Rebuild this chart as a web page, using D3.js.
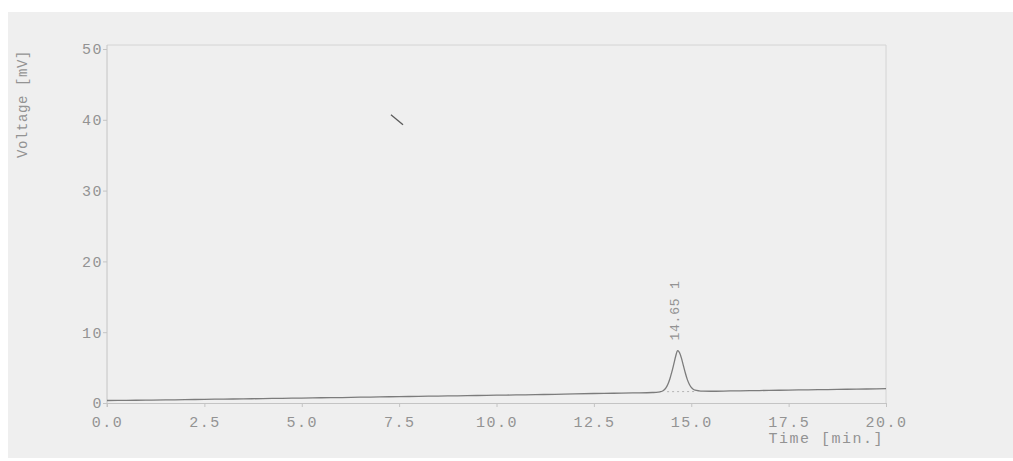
<!DOCTYPE html>
<html>
<head>
<meta charset="utf-8">
<script src="https://cdn.jsdelivr.net/npm/d3@7/dist/d3.min.js"></script>
<style>
  html, body { margin: 0; padding: 0; background: #ffffff; }
  svg { display: block; }
  text { font-family: "Courier New", "Liberation Mono", monospace; fill: #939393; }
</style>
</head>
<body>
<svg id="chart" width="1013" height="461"></svg>
<script>
// Detector trace: time (min) and signal (mV)
const timeMin = [
  0.0, 0.5, 1.0, 1.5, 2.0, 2.5, 3.0, 3.5, 4.0, 4.5, 5.0, 5.5, 6.0, 6.5, 7.0, 7.5,
  8.0, 8.5, 9.0, 9.5, 10.0, 10.5, 11.0, 11.5, 12.0, 12.5, 13.0, 13.5, 14.0, 14.1,
  14.2, 14.25, 14.3, 14.35, 14.4, 14.45, 14.5, 14.55, 14.6, 14.65, 14.7, 14.75,
  14.8, 14.85, 14.9, 14.95, 15.0, 15.05, 15.1, 15.2, 15.3, 15.5, 16.0, 16.5, 17.0,
  17.5, 18.0, 18.5, 19.0, 19.5, 20.0
];
const voltageMv = [
  0.35, 0.38, 0.40, 0.44, 0.47, 0.52, 0.55, 0.58, 0.62, 0.66, 0.70, 0.74, 0.77, 0.82, 0.86, 0.90,
  0.94, 0.98, 1.02, 1.06, 1.10, 1.14, 1.18, 1.23, 1.28, 1.34, 1.38, 1.43, 1.48, 1.50,
  1.58, 1.66, 1.84, 2.15, 2.65, 3.40, 4.35, 5.45, 6.60, 7.40, 7.10, 6.30,
  5.25, 4.20, 3.30, 2.65, 2.20, 1.95, 1.82, 1.72, 1.68, 1.66, 1.70, 1.74, 1.78,
  1.82, 1.86, 1.90, 1.94, 1.98, 2.02
];

// Integration baseline under the peak and its label
const peakBaseT = [14.38, 15.12];
const peakBaseV = [1.60, 1.62];
const peakTime = [14.65];
const peakHeight = [7.40];
const peakLabel = ["14.65 1"];

// Stray pen stroke on the sheet, in data units
const strokeT = [7.29, 7.60];
const strokeV = [40.7, 39.3];

// Axis ticks
const xTicks = [0, 2.5, 5, 7.5, 10, 12.5, 15, 17.5, 20];
const xTickLabels = ["0.0", "2.5", "5.0", "7.5", "10.0", "12.5", "15.0", "17.5", "20.0"];
const yTicks = [0, 10, 20, 30, 40, 50];
const yTickLabels = ["0", "10", "20", "30", "40", "50"];

const svg = d3.select("#chart");

// paper background
svg.append("rect")
  .attr("x", 8).attr("y", 12)
  .attr("width", 1005).attr("height", 446)
  .attr("fill", "#efefef");

const margin = { left: 107, right: 127, top: 45, bottom: 58 };
const W = 1013, H = 461;

const x = d3.scaleLinear().domain([0, 20]).range([margin.left, W - margin.right]);
const y = d3.scaleLinear().domain([0, 50]).range([H - margin.bottom, 49]);

const axisColor = "#c4c4c4";
const labelFont = "'Courier New', 'Liberation Mono', monospace";

// plot frame (top and right)
svg.append("path")
  .attr("d", `M${x(0)},${margin.top}H${x(20)}V${y(0)}`)
  .attr("fill", "none").attr("stroke", "#d4d4d4").attr("stroke-width", 1);

// y axis
const yAxis = svg.append("g")
  .attr("transform", `translate(${x(0)},0)`)
  .call(d3.axisLeft(y).tickValues(yTicks).tickFormat((d, i) => yTickLabels[i]).tickSize(4).tickPadding(0));
yAxis.select(".domain").attr("stroke", axisColor).attr("d", `M0,${margin.top}V${y(0) + 4}`);
yAxis.selectAll(".tick line").attr("stroke", axisColor);
yAxis.selectAll(".tick text")
  .attr("font-size", 15).attr("letter-spacing", 1.5).attr("fill", "#939393")
  .style("font-family", labelFont);

// x axis
const xAxis = svg.append("g")
  .attr("transform", `translate(0,${y(0)})`)
  .call(d3.axisBottom(x).tickValues(xTicks).tickFormat((d, i) => xTickLabels[i]).tickSize(4).tickPadding(9));
xAxis.select(".domain").attr("stroke", axisColor);
xAxis.selectAll(".tick line").attr("stroke", axisColor);
xAxis.selectAll(".tick text")
  .attr("font-size", 15).attr("letter-spacing", 1.5).attr("fill", "#939393")
  .style("font-family", labelFont);

// axis titles
svg.append("text")
  .attr("x", x(20) - 2).attr("y", 443)
  .attr("text-anchor", "end")
  .attr("font-size", 15).attr("letter-spacing", 1.5)
  .text("Time [min.]");

svg.append("text")
  .attr("transform", `translate(27,${104}) rotate(-90)`)
  .attr("text-anchor", "middle")
  .attr("font-size", 14).attr("letter-spacing", 0.6)
  .attr("fill", "#ababab")
  .text("Voltage [mV]");

// integration baseline
svg.append("line")
  .attr("x1", x(peakBaseT[0])).attr("y1", y(peakBaseV[0]))
  .attr("x2", x(peakBaseT[1])).attr("y2", y(peakBaseV[1]))
  .attr("stroke", "#b4b4b4").attr("stroke-width", 1)
  .attr("stroke-dasharray", "2,3");

// signal trace
const pts = timeMin.map((t, i) => [t, voltageMv[i]]);
const line = d3.line().x(d => x(d[0])).y(d => y(d[1])).curve(d3.curveMonotoneX);
svg.append("path")
  .datum(pts)
  .attr("d", line)
  .attr("fill", "none")
  .attr("stroke", "#7c7c7c")
  .attr("stroke-width", 1.3);

// peak label
peakTime.forEach((t, i) => {
  svg.append("text")
    .attr("transform", `translate(${x(t) + 1},${y(peakHeight[i]) - 10}) rotate(-90)`)
    .attr("text-anchor", "start")
    .attr("font-size", 13).attr("letter-spacing", 0.8)
    .attr("fill", "#939393")
    .text(peakLabel[i]);
});

// pen stroke
svg.append("line")
  .attr("x1", x(strokeT[0])).attr("y1", y(strokeV[0]))
  .attr("x2", x(strokeT[1])).attr("y2", y(strokeV[1]))
  .attr("stroke", "#5a5a5a").attr("stroke-width", 1.3);
</script>
</body>
</html>
